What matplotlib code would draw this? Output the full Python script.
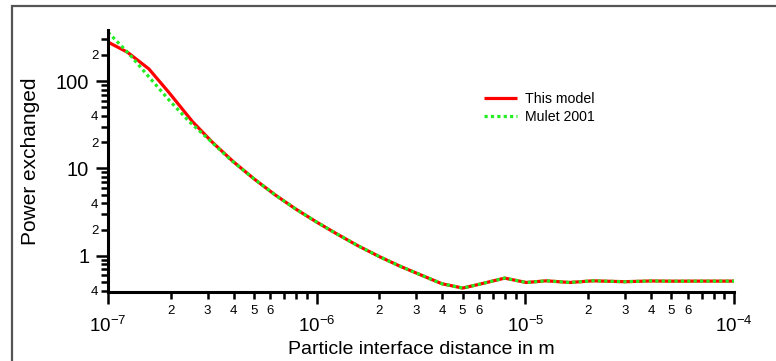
import numpy as np
import matplotlib
matplotlib.use("Agg")
import matplotlib.pyplot as plt
from matplotlib.ticker import FixedLocator, FuncFormatter
from matplotlib.patches import Rectangle

plt.rcParams['font.family'] = ['Liberation Sans', 'DejaVu Sans']
plt.rcParams['mathtext.fontset'] = 'custom'
plt.rcParams['mathtext.rm'] = 'Liberation Sans'

# distance (m) and power exchanged
model_x = [1.00e-7, 1.24e-7, 1.57e-7, 1.96e-7, 2.54e-7, 3.16e-7, 3.98e-7, 5.01e-7,
           6.31e-7, 7.94e-7, 1.0e-6, 1.26e-6, 1.58e-6, 2.0e-6, 2.51e-6, 3.16e-6,
           3.98e-6, 5.01e-6, 6.04e-6, 7.96e-6, 1.01e-5, 1.26e-5, 1.63e-5, 2.11e-5,
           3.0e-5, 4.0e-5, 5.0e-5, 7.0e-5, 1.0e-4]
model_y = [280, 214, 138, 74, 34.4, 20.0, 12.0, 7.6,
           5.0, 3.43, 2.43, 1.76, 1.30, 0.977, 0.76, 0.603,
           0.479, 0.427, 0.473, 0.555, 0.495, 0.517, 0.495, 0.517,
           0.505, 0.515, 0.512, 0.513, 0.513]

mulet_x = [1.00e-7, 1.26e-7, 1.57e-7, 1.96e-7, 2.45e-7, 3.05e-7, 3.81e-7, 5.01e-7,
           6.31e-7, 7.94e-7, 1.0e-6, 1.26e-6, 1.58e-6, 2.0e-6, 2.51e-6, 3.16e-6,
           3.98e-6, 5.01e-6, 6.04e-6, 7.96e-6, 1.01e-5, 1.26e-5, 1.63e-5, 2.11e-5,
           3.0e-5, 4.0e-5, 5.0e-5, 7.0e-5, 1.0e-4]
mulet_y = [363, 206, 112, 60.8, 34.4, 21.4, 13.0, 7.6,
           5.0, 3.43, 2.43, 1.76, 1.30, 0.977, 0.76, 0.603,
           0.479, 0.427, 0.473, 0.555, 0.495, 0.517, 0.495, 0.517,
           0.505, 0.515, 0.512, 0.513, 0.513]

x_minor_labelled = [2, 3, 4, 5, 6]
y_minor_labelled = [2, 4]

fig = plt.figure(figsize=(7.76, 3.61), dpi=100)
ax = fig.add_axes([108/776, 1 - 292/361, (734 - 108)/776, (292 - 30)/361])

# outer frame (runs off the right and bottom edges)
fig.add_artist(Rectangle((12/776, -0.2), 1.2, 1.2 - 6/361, transform=fig.transFigure,
                         fill=False, edgecolor='#555555', linewidth=1.6, clip_on=False))

ax.plot(model_x, model_y, color='#ff0000', lw=2.3, label='This model', solid_capstyle='butt')
ax.plot(mulet_x, mulet_y, color='#22ee22', lw=2.3, dashes=(1, 1), label='Mulet 2001')

ax.set_xscale('log')
ax.set_yscale('log')
ax.set_xlim(1e-7, 1e-4)
ax.set_ylim(0.385, 385)

for s in ['top', 'right']:
    ax.spines[s].set_visible(False)
for s in ['left', 'bottom']:
    ax.spines[s].set_linewidth(2.2)


def mantissa(v):
    e = np.floor(np.log10(v) + 1e-9)
    return int(round(v / 10**e))


def minor_fmt(allowed):
    def f(v, pos):
        m = mantissa(v)
        return str(m) if m in allowed else ''
    return FuncFormatter(f)


x_major = [1e-7, 1e-6, 1e-5, 1e-4]
x_minor = [m * 10.0**e for e in range(-7, -4) for m in range(2, 10)]
ax.xaxis.set_major_locator(FixedLocator(x_major))
ax.xaxis.set_minor_locator(FixedLocator(x_minor))
ax.xaxis.set_major_formatter(FuncFormatter(
    lambda v, p: r'$\mathregular{10^{%d}}$' % int(round(np.log10(v)))))
ax.xaxis.set_minor_formatter(minor_fmt(x_minor_labelled))

y_major = [1, 10, 100]
y_minor = [m * 10.0**e for e in range(-1, 3) for m in range(2, 10)]
y_minor = [v for v in y_minor if 0.385 <= v <= 385]
ax.yaxis.set_major_locator(FixedLocator(y_major))
ax.yaxis.set_minor_locator(FixedLocator(y_minor))
ax.yaxis.set_major_formatter(FuncFormatter(lambda v, p: '%g' % v))
ax.yaxis.set_minor_formatter(minor_fmt(y_minor_labelled))

ax.tick_params(which='major', direction='out', length=8.5, width=1.8, colors='black')
ax.tick_params(which='minor', direction='out', length=5, width=1.8, colors='black')
ax.tick_params(axis='x', which='major', labelsize=13.5, pad=9)
ax.tick_params(axis='x', which='minor', labelsize=9.5, pad=4.5)
ax.tick_params(axis='y', which='major', labelsize=14.5, pad=5)
ax.tick_params(axis='y', which='minor', labelsize=9.5, pad=2)

ax.set_xlabel('Particle interface distance in m', fontsize=14)
ax.xaxis.set_label_coords(0.5, -(341 - 292) / 262)
ax.set_ylabel('Power exchanged', fontsize=15)
ax.yaxis.set_label_coords(-(108 - 40) / 626, 0.5)

ax.legend(loc='upper left', bbox_to_anchor=(484/776, 1 - 92/361),
          bbox_transform=fig.transFigure, frameon=False, fontsize=10.2,
          handlelength=2.3, handletextpad=0.6, borderpad=0, borderaxespad=0,
          labelspacing=0.3)

fig.savefig('out.png', dpi=100)
